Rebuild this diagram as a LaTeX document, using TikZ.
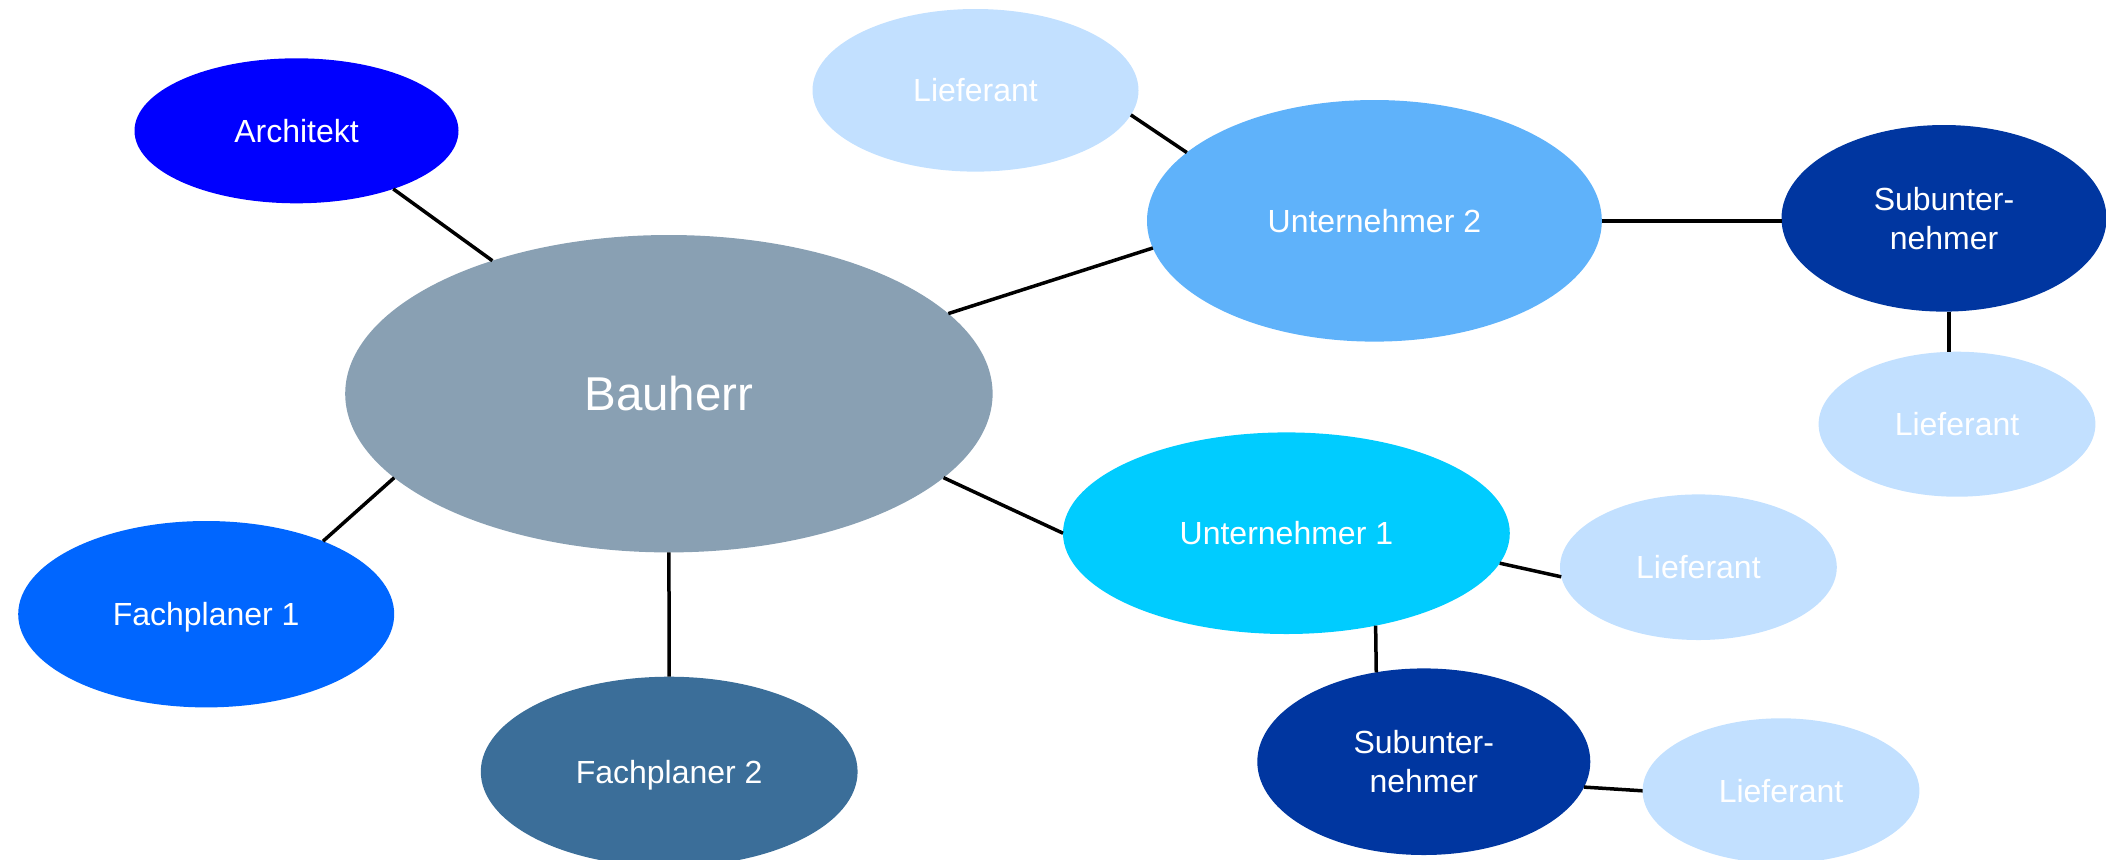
\documentclass[tikz,border=0pt]{standalone}
\usepackage{fontspec}
\setmainfont{Liberation Sans}
\usetikzlibrary{shapes.geometric}
\definecolor{cArch}{HTML}{0000FF}
\definecolor{cBau}{HTML}{89A0B3}
\definecolor{cFa}{HTML}{0066FF}
\definecolor{cFb}{HTML}{3B6E99}
\definecolor{cLief}{HTML}{C2E0FF}
\definecolor{cUa}{HTML}{00CCFF}
\definecolor{cUb}{HTML}{5FB2FA}
\definecolor{cSub}{HTML}{0036A0}
\tikzset{
  blob/.style={ellipse, inner sep=0pt, outer sep=0pt, text=white,
    font=\fontsize{16}{19.5}\selectfont, align=center},
  oneline/.style={text height=11.5pt, text depth=0pt},
  link/.style={line width=1.75pt, black}
}
\begin{document}
\begin{tikzpicture}[x=0.5pt,y=-0.5pt]
\useasboundingbox (0,0) rectangle (2106,859);
\node[blob, oneline, fill=cArch, minimum width=162pt, minimum height=72.5pt] (arch) at (296.5,130.8) {Architekt};
\node[blob, fill=cBau, minimum width=323.7pt, minimum height=158.7pt, font=\fontsize{23.75}{28}\selectfont, text height=17pt, text depth=0pt] (bau) at (668.9,393.7) {Bauherr};
\node[blob, oneline, fill=cFa, minimum width=188pt, minimum height=93.2pt] (fa) at (206.2,614.2) {Fachplaner 1};
\node[blob, oneline, fill=cFb, minimum width=188.4pt, minimum height=95pt] (fb) at (669.2,771.7) {Fachplaner 2};
\node[blob, oneline, fill=cLief, minimum width=163pt, minimum height=81.3pt] (lt) at (975.5,90.3) {Lieferant};
\node[blob, oneline, fill=cUb, minimum width=227.4pt, minimum height=120.8pt] (ub) at (1374.4,220.8) {Unternehmer 2};
\node[blob, fill=cSub, minimum width=162.5pt, minimum height=93.3pt] (sr) at (1944,218.3) {Subunter-\\nehmer};
\node[blob, oneline, fill=cLief, minimum width=138.4pt, minimum height=72.5pt] (lr) at (1957,424.2) {Lieferant};
\node[blob, oneline, fill=cUa, minimum width=223.4pt, minimum height=100.8pt] (ua) at (1286.4,533.2) {Unternehmer 1};
\node[blob, oneline, fill=cLief, minimum width=138.4pt, minimum height=72.8pt] (lm) at (1698.4,567.2) {Lieferant};
\node[blob, fill=cSub, minimum width=166.5pt, minimum height=93.3pt] (sb) at (1423.8,761.7) {Subunter-\\nehmer};
\node[blob, oneline, fill=cLief, minimum width=138.4pt, minimum height=72.5pt] (lb) at (1781,790.8) {Lieferant};
\draw[link] (arch.-31.5) -- (bau.143.85);
\draw[link] (bau.197.65) -- (fa.32.9);
\draw[link] (bau.south) -- (fb.north);
\draw[link] (bau.16.3) -- (ub.187.5);
\draw[link] (bau.-17) -- (ua.180.5);
\draw[link] (lt.-9.15) -- (ub.160.16);
\draw[link] (ub.east) -- (ub.east -| sr.west);
\draw[link] (sr.-87.8) -- (sr.-87.8 |- lr.north);
\draw[link] (ua.-8.04) -- (lm.184.4);
\draw[link] (ua.-46.1) -- (sb.118.5);
\draw[link] (sb.-9.24) -- (lb.180.3);
\end{tikzpicture}
\end{document}
